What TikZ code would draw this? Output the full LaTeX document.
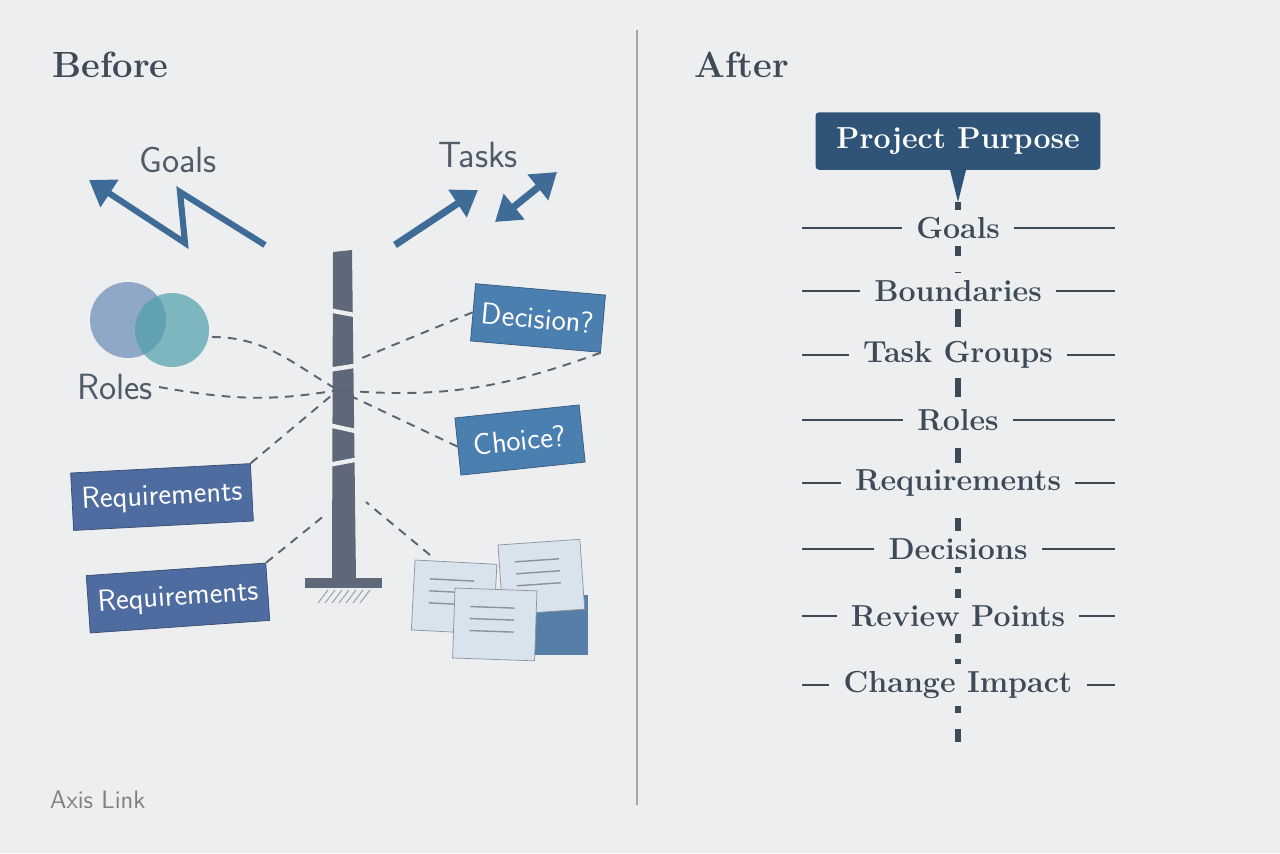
\documentclass[tikz,border=0pt]{standalone}
\usepackage{tikz}
\usetikzlibrary{arrows.meta,positioning}
\definecolor{bg}{HTML}{EDEEEF}
\definecolor{ink}{HTML}{3E4A58}
\definecolor{navy}{HTML}{2F5478}
\definecolor{card}{HTML}{4A7FB0}
\definecolor{reqblue}{HTML}{4E6CA0}
\definecolor{pole}{HTML}{5E6878}
\definecolor{paper}{HTML}{D8E3EE}
\definecolor{rolea}{HTML}{7F9CC0}
\definecolor{roleb}{HTML}{4E9FAA}
\tikzset{
  card/.style={fill=card, draw=card!70!black, text=white, font=\sffamily\LARGE, minimum height=1.15cm, inner sep=5pt},
  req/.style={card, fill=reqblue, draw=reqblue!70!black, minimum width=3.6cm},
  link/.style={dashed, dash pattern=on 5pt off 4pt, line width=1.1pt, ink!85},
  item/.style={fill=bg, text=ink, font=\bfseries\LARGE, inner sep=4pt},
  rule/.style={line width=1.2pt, ink},
  bigarrow/.style={line width=4pt, color=card!85!black, -{Triangle[length=14pt,width=18pt]}},
}
\begin{document}
\begin{tikzpicture}[x=0.02cm, y=-0.02cm]
      \useasboundingbox[fill=bg] (0,0) rectangle (1280,853);
      \draw[line width=1.5pt, gray!70] (637,30) -- (637,805);

      % headings
      \node[anchor=west, text=ink, font=\bfseries\huge] (before) at (46,65) {Before};
      \node[anchor=west, text=ink, font=\bfseries\huge] (after) at (688,65) {After};
      \node[anchor=west, text=gray, font=\sffamily\Large] (brand) at (44,800) {Axis Link};

      % before: arrows
      \node[text=ink!90, font=\sffamily\huge] (goals) at (178,160) {Goals};
      \node[text=ink!90, font=\sffamily\huge] (tasks) at (478,155) {Tasks};
      \draw[bigarrow, line width=3.5pt] (265,245) -- (180,192) -- (185,243) -- (89,180);
      \draw[bigarrow] (395,245) -- (478,190);
      \draw[bigarrow, {Triangle[length=14pt,width=18pt]}-{Triangle[length=14pt,width=18pt]}] (495,222) -- (557,172);

      % before: pillar
      \fill[pole] (333,252) -- (352,250) -- (356,580) -- (332,580) -- cycle;
      \fill[pole] (305,578) rectangle (382,588);
      \foreach \y/\d in {310/6, 370/-5, 425/7, 465/-6} {
        \draw[bg, line width=2.5pt] (328,\y) -- (360,\y+\d);
      }
      \foreach \i in {0,...,6} {
        \draw[pole!60, line width=0.6pt] (318+\i*7,603) -- (328+\i*7,590);
      }
      \coordinate (hub) at (338,390);

      % before: roles
      \fill[rolea, opacity=0.85] (128,320) circle (38);
      \fill[roleb, opacity=0.7] (172,330) circle (37);
      \node[text=ink!90, font=\sffamily\huge] (roles) at (115,387) {Roles};
      \coordinate (venn) at (212,337);

      % before: cards
      \node[card, rotate=-5, minimum width=2.4cm] (decision) at (538,318) {Decision?};
      \node[card, rotate=6, minimum width=2.5cm] (choice) at (520,440) {Choice?};
      \node[req, rotate=3] (reqa) at (162,497) {Requirements};
      \node[req, rotate=4] (reqb) at (178,598) {Requirements};

      % before: documents
      \fill[card!80!gray] (520,595) rectangle (588,655);
      \foreach \x/\y/\r in {415/560/-3, 498/545/4, 455/588/-2} {
        \begin{scope}[shift={(\x,\y)}, rotate=\r]
          \draw[fill=paper, draw=ink!60] (0,0) rectangle (82,70);
          \foreach \k in {18,30,42} \draw[ink!60, line width=0.8pt] (16,\k) -- (60,\k);
        \end{scope}
      }
      \coordinate (docs) at (430,555);

      % before: loose links
      \draw[link] (venn) to[out=0, in=150] (hub);
      \draw[link] (roles.east) to[out=-10, in=190] (hub);
      \draw[link] (reqa.north east) -- (hub);
      \draw[link] (reqb.north east) -- (325,515);
      \draw[link] (decision.west) -- (362,358);
      \draw[link] (decision.south east) to[out=200, in=-5] (hub);
      \draw[link] (choice.west) -- (hub);
      \draw[link] (docs) -- (366,502);

      % after: purpose
      \node[fill=navy, text=white, font=\bfseries\LARGE, minimum width=5.7cm, minimum height=1.15cm, rounded corners=2pt] (purpose) at (958,141) {Project Purpose};
      \fill[navy] (950,170) -- (966,170) -- (958,202) -- cycle;
      \draw[rule, line width=3pt, dash pattern=on 11pt off 9pt] (958,202) -- (958,742);

      % after: items
      \foreach \t/\y [count=\n] in {Goals/228, Boundaries/291, Task Groups/355, Roles/420,
                                    Requirements/483, Decisions/549, Review Points/616, Change Impact/685} {
        \node[item] (step\n) at (958,\y) {\t};
        \draw[rule] (802,\y) -- ([xshift=-4pt]step\n.west);
        \draw[rule] ([xshift=4pt]step\n.east) -- (1115,\y);
      }
\end{tikzpicture}
\end{document}
